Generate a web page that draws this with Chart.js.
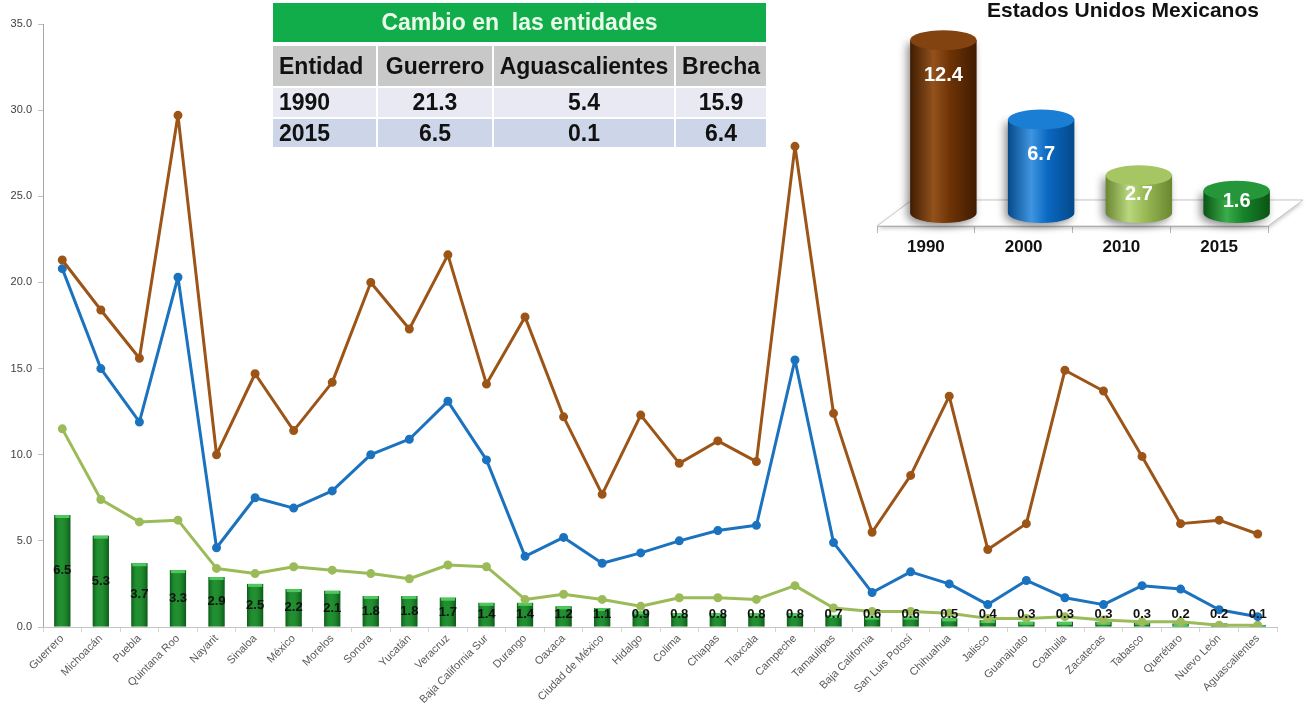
<!DOCTYPE html>
<html>
<head>
<meta charset="utf-8">
<script src="https://cdn.jsdelivr.net/npm/chart.js@4.4.1/dist/chart.umd.min.js"></script>
<style>
  body { margin: 0; background: #fff; width: 1306px; height: 711px; overflow: hidden; position: relative; font-family: "Liberation Sans", Arial, sans-serif; }
  #main { position: absolute; left: 0; top: 0; }
  #usa { position: absolute; left: 870px; top: 0; }
  #usaTitle { position: absolute; left: 960px; width: 326px; top: -2px; text-align: center; font-weight: bold; font-size: 21px; color: #111; }
  #tbl { position: absolute; left: 273px; top: 3px; width: 493px; table-layout: fixed; border-collapse: separate; border-spacing: 0; font-weight: bold; font-size: 23px; color: #111; }
  #tbl td { padding: 0 5px; white-space: nowrap; overflow: visible; }
  #tbl .head { background: #10ad4a; color: #eafbea; text-align: center; height: 39px; font-size: 23px; }
  #tbl .cols td { background: #c8c8c8; height: 40px; text-align: center; border-top: 4px solid #fff; border-left: 2px solid #fff; padding: 0 2px; }
  #tbl .r1 td { background: #e8e9f3; height: 29px; text-align: center; border-top: 2px solid #fff; border-left: 2px solid #fff; }
  #tbl .r2 td { background: #cdd5e8; height: 28px; text-align: center; border-top: 2px solid #fff; border-left: 2px solid #fff; }
  #tbl td.first { text-align: left; border-left: none; padding-left: 6px; }
</style>
</head>
<body>
<canvas id="main" width="1306" height="711"></canvas>
<canvas id="usa" width="436" height="270"></canvas>
<div id="usaTitle">Estados Unidos Mexicanos</div>
<table id="tbl">
  <colgroup><col style="width:103px"><col style="width:116px"><col style="width:182px"><col style="width:92px"></colgroup>
  <tr><td class="head" colspan="4">Cambio en&nbsp; las entidades</td></tr>
  <tr class="cols"><td class="first">Entidad</td><td>Guerrero</td><td>Aguascalientes</td><td>Brecha</td></tr>
  <tr class="r1"><td class="first">1990</td><td>21.3</td><td>5.4</td><td>15.9</td></tr>
  <tr class="r2"><td class="first">2015</td><td>6.5</td><td>0.1</td><td>6.4</td></tr>
</table>
<script>
const estados = ['Guerrero', 'Michoacán', 'Puebla', 'Quintana Roo', 'Nayarit', 'Sinaloa', 'México', 'Morelos',
  'Sonora', 'Yucatán', 'Veracruz', 'Baja California Sur', 'Durango', 'Oaxaca', 'Ciudad de México', 'Hidalgo',
  'Colima', 'Chiapas', 'Tlaxcala', 'Campeche', 'Tamaulipas', 'Baja California', 'San Luis Potosí', 'Chihuahua',
  'Jalisco', 'Guanajuato', 'Coahuila', 'Zacatecas', 'Tabasco', 'Querétaro', 'Nuevo León', 'Aguascalientes'];

const valores1990 = [21.3, 18.4, 15.6, 29.7, 10.0, 14.7, 11.4, 14.2, 20.0, 17.3, 21.6, 14.1, 18.0, 12.2, 7.7, 12.3,
  9.5, 10.8, 9.6, 27.9, 12.4, 5.5, 8.8, 13.4, 4.5, 6.0, 14.9, 13.7, 9.9, 6.0, 6.2, 5.4];
const valores2000 = [20.8, 15.0, 11.9, 20.3, 4.6, 7.5, 6.9, 7.9, 10.0, 10.9, 13.1, 9.7, 4.1, 5.2, 3.7, 4.3,
  5.0, 5.6, 5.9, 15.5, 4.9, 2.0, 3.2, 2.5, 1.3, 2.7, 1.7, 1.3, 2.4, 2.2, 1.0, 0.6];
const valores2010 = [11.5, 7.4, 6.1, 6.2, 3.4, 3.1, 3.5, 3.3, 3.1, 2.8, 3.6, 3.5, 1.6, 1.9, 1.6, 1.2,
  1.7, 1.7, 1.6, 2.4, 1.1, 0.9, 0.9, 0.8, 0.5, 0.5, 0.6, 0.4, 0.3, 0.3, 0.1, 0.1];
const valores2015 = [6.5, 5.3, 3.7, 3.3, 2.9, 2.5, 2.2, 2.1, 1.8, 1.8, 1.7, 1.4, 1.4, 1.2, 1.1, 0.9,
  0.8, 0.8, 0.8, 0.8, 0.7, 0.6, 0.6, 0.5, 0.4, 0.3, 0.3, 0.3, 0.3, 0.2, 0.2, 0.1];

const yTicks = [0, 5, 10, 15, 20, 25, 30, 35];

const usaYears = ['1990', '2000', '2010', '2015'];
const usaValues = [12.4, 6.7, 2.7, 1.6];

// colores de los cilindros: [oscuro, medio, claro, tapa]
const cylColors = [
  ['#3f1c02', '#6e3305', '#93521c', '#834310'],
  ['#05498a', '#0a68c2', '#3f95e0', '#1a7ed4'],
  ['#6a8731', '#98b955', '#b9d77e', '#a6c664'],
  ['#0a5414', '#17832a', '#3aad4a', '#25963a']
];

const fontName = '"Liberation Sans", Arial, sans-serif';

// etiquetas y brillo de las barras verdes
const barLabels = {
  id: 'barLabels',
  afterDatasetDraw(chart, args) {
    if (args.index !== 0) return;
    const ctx = chart.ctx;
    ctx.save();
    args.meta.data.forEach((bar) => {
      const left = bar.x - bar.width / 2;
      const g = ctx.createLinearGradient(left, 0, left + bar.width, 0);
      g.addColorStop(0, 'rgba(0,30,0,0.4)');
      g.addColorStop(0.4, 'rgba(120,255,120,0.12)');
      g.addColorStop(1, 'rgba(0,30,0,0.4)');
      ctx.fillStyle = g;
      ctx.fillRect(left, bar.y, bar.width, bar.base - bar.y);
      ctx.fillStyle = '#4fc95e';
      ctx.fillRect(left + 1, bar.y, bar.width - 2, Math.min(3, bar.base - bar.y));
    });
    ctx.restore();
  },
  afterDatasetsDraw(chart) {
    const ctx = chart.ctx;
    const meta = chart.getDatasetMeta(0);
    ctx.save();
    ctx.font = 'bold 13px ' + fontName;
    ctx.fillStyle = '#111';
    ctx.textAlign = 'center';
    ctx.textBaseline = 'middle';
    meta.data.forEach((bar, i) => {
      const y = Math.min((bar.y + bar.base) / 2, bar.base - 12);
      ctx.fillText(valores2015[i].toFixed(1), bar.x, y);
    });
    ctx.restore();
  }
};

const lineStyle = { borderWidth: 3, pointRadius: 3, pointHoverRadius: 3, borderJoinStyle: 'round', borderCapStyle: 'round' };

new Chart(document.getElementById('main'), {
  type: 'bar',
  data: {
    labels: estados,
    datasets: [
      { type: 'bar', label: '2015', data: valores2015, backgroundColor: '#138026', barPercentage: 0.42, categoryPercentage: 1, order: 4 },
      { type: 'line', label: '2010', data: valores2010, borderColor: '#9bbb59', backgroundColor: '#9bbb59', ...lineStyle, order: 3 },
      { type: 'line', label: '2000', data: valores2000, borderColor: '#1b72bf', backgroundColor: '#1b72bf', ...lineStyle, order: 2 },
      { type: 'line', label: '1990', data: valores1990, borderColor: '#9c5417', backgroundColor: '#9c5417', ...lineStyle, order: 1 }
    ]
  },
  options: {
    responsive: false,
    animation: false,
    layout: { padding: { top: 24, right: 29, left: 0, bottom: 0 } },
    plugins: { legend: { display: false }, tooltip: { enabled: false } },
    scales: {
      y: {
        min: 0,
        max: 35,
        afterBuildTicks: (scale) => { scale.ticks = yTicks.map(v => ({ value: v })); },
        afterFit: (scale) => { scale.width = 43; },
        ticks: { callback: (v) => Number(v).toFixed(1), font: { size: 11, family: fontName }, color: '#404040', padding: 6 },
        grid: { drawOnChartArea: false, drawTicks: true, tickLength: 5, color: '#bfbfbf' },
        border: { color: '#a6a6a6' }
      },
      x: {
        afterFit: (scale) => { scale.height = 84; },
        ticks: { autoSkip: false, maxRotation: 45, minRotation: 45, font: { size: 11, family: fontName }, color: '#5a5a5a', padding: 0 },
        grid: { offset: true, drawOnChartArea: false, drawTicks: true, tickLength: 5, color: '#d4d4d4' },
        border: { color: '#c4c4c4' }
      }
    }
  },
  plugins: [barLabels]
});

// cilindros 3D del recuadro nacional
const depthX = 35, depthY = -26;
const cylinders = {
  id: 'cylinders',
  beforeDatasetsDraw(chart) {
    const { left, right, bottom } = chart.chartArea;
    const ctx = chart.ctx;
    ctx.save();
    ctx.beginPath();
    ctx.moveTo(left, bottom);
    ctx.lineTo(right, bottom);
    ctx.lineTo(right + depthX, bottom + depthY);
    ctx.lineTo(left + depthX, bottom + depthY);
    ctx.closePath();
    ctx.fillStyle = '#ffffff';
    ctx.shadowColor = 'rgba(0,0,0,0.25)';
    ctx.shadowBlur = 4;
    ctx.shadowOffsetY = 2;
    ctx.fill();
    ctx.shadowColor = 'transparent';
    ctx.strokeStyle = '#c6c6c6';
    ctx.lineWidth = 1;
    ctx.stroke();
    ctx.restore();
  },
  afterDatasetsDraw(chart) {
    const ctx = chart.ctx;
    const meta = chart.getDatasetMeta(0);
    ctx.save();
    meta.data.forEach((bar, i) => {
      const c = cylColors[i];
      const cx = bar.x + depthX / 2;
      const top = bar.y + depthY / 2;
      const base = bar.base + depthY / 2;
      const rx = bar.width / 2, ry = 10;
      const g = ctx.createLinearGradient(cx - rx, 0, cx + rx, 0);
      g.addColorStop(0, c[0]);
      g.addColorStop(0.35, c[2]);
      g.addColorStop(0.6, c[1]);
      g.addColorStop(1, c[0]);
      ctx.beginPath();
      ctx.moveTo(cx - rx, top);
      ctx.lineTo(cx - rx, base);
      ctx.ellipse(cx, base, rx, ry, 0, Math.PI, 0, true);
      ctx.lineTo(cx + rx, top);
      ctx.closePath();
      ctx.shadowColor = 'rgba(0,0,0,0.45)';
      ctx.shadowBlur = 8;
      ctx.shadowOffsetX = -3;
      ctx.shadowOffsetY = 3;
      ctx.fillStyle = g;
      ctx.fill();
      ctx.shadowColor = 'transparent';
      ctx.beginPath();
      ctx.ellipse(cx, top, rx, ry, 0, 0, Math.PI * 2);
      ctx.fillStyle = c[3];
      ctx.fill();
      ctx.font = 'bold 20px ' + fontName;
      ctx.fillStyle = '#ffffff';
      ctx.textAlign = 'center';
      ctx.textBaseline = 'middle';
      ctx.fillText(usaValues[i].toFixed(1), cx, Math.min(top + 35, (top + base) / 2));
    });
    ctx.restore();
  }
};

new Chart(document.getElementById('usa'), {
  type: 'bar',
  data: {
    labels: usaYears,
    datasets: [{ data: usaValues, backgroundColor: 'rgba(0,0,0,0)', barPercentage: 0.68, categoryPercentage: 1 }]
  },
  options: {
    responsive: false,
    animation: false,
    layout: { padding: { top: 42, left: 7, right: 38, bottom: 0 } },
    plugins: { legend: { display: false }, tooltip: { enabled: false } },
    scales: {
      y: { display: false, min: 0, max: 13.2 },
      x: {
        afterFit: (scale) => { scale.height = 44; },
        ticks: { font: { size: 17, weight: 'bold', family: fontName }, color: '#111', padding: 4 },
        grid: { offset: true, drawOnChartArea: false, drawTicks: true, tickLength: 7, color: '#b8b8b8' },
        border: { color: '#b8b8b8' }
      }
    }
  },
  plugins: [cylinders]
});
</script>
</body>
</html>
